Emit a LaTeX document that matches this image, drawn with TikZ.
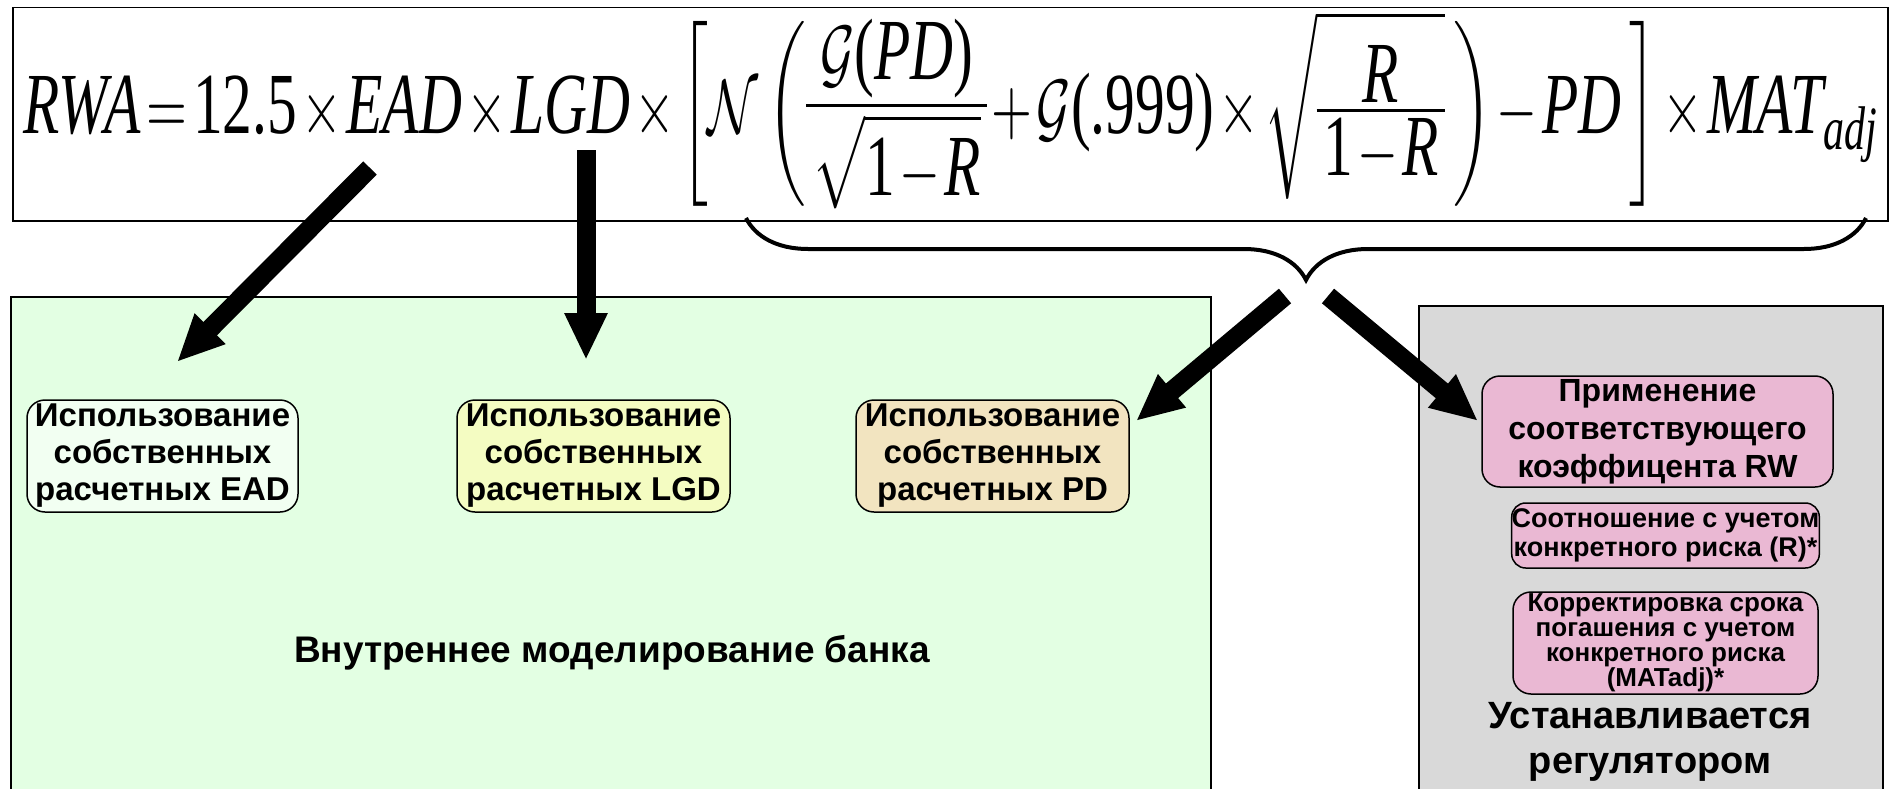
\documentclass[tikz,border=0pt]{standalone}
\usepackage{fontspec}
\usepackage{amsmath}
\usepackage{graphicx}
\setmainfont{Liberation Sans}
\newfontfamily\tnr{Liberation Serif}
\usetikzlibrary{arrows.meta,decorations.pathreplacing}
\definecolor{bankgreen}{RGB}{227,255,227}
\definecolor{eadfill}{RGB}{242,255,242}
\definecolor{lgdfill}{RGB}{244,252,194}
\definecolor{pdfill}{RGB}{242,228,192}
\definecolor{rwpink}{RGB}{234,184,211}
\definecolor{reggray}{RGB}{217,217,217}
\newcommand{\ti}[1]{\text{\tnr\itshape\fontsize{11.3}{12}\selectfont #1}}
\newcommand{\tu}[1]{\text{\tnr\fontsize{11.3}{12}\selectfont #1}}
\newcommand{\ffrac}[2]{\vcenter{\offinterlineskip\halign{\hskip.12em\hfil##\hfil\hskip.12em\cr$\displaystyle#1$\cr\noalign{\kern0.8pt\hrule height0.45pt\kern0.8pt}$\displaystyle#2$\cr}}}
\newcommand{\delimph}{\vphantom{\rule[-9.5pt]{0pt}{14.5pt}}}
\tikzset{
  panel/.style={draw, line width=1.5pt, anchor=north west, inner sep=0pt},
  rbox/.style={draw, line width=1.5pt, rounded corners=18pt, inner sep=0pt, align=center, font=\bfseries},
  bigarrow/.style={line width=19pt, -{Triangle[length=47pt,width=40pt]}},
}
\begin{document}
\begin{tikzpicture}[x=1pt,y=-1pt]
\useasboundingbox (0,0) rectangle (1897,789);
% formula
\node[panel, minimum width=1875pt, minimum height=213pt] (fbox) at (12,7) {};
\node[inner sep=0pt] (formula) at (952,114) {\resizebox*{1856pt}{185pt}{\thickmuskip=2mu \medmuskip=1.5mu $\displaystyle
\ti{RWA}=\tu{12.5}\times\ti{EAD}\times\ti{LGD}\times\left[\delimph\smash{\mathcal{N}\left(\delimph\smash{\ffrac{\mathcal{G}\tu{(}\ti{PD}\tu{)}}{\sqrt{\tu{1}-\ti{R}}}+\mathcal{G}\tu{(.999)}\times\sqrt{\ffrac{\ti{R}}{\tu{1}-\ti{R}}}}\,\right)-\ti{PD}}\,\right]\times\ti{MAT}_{\text{\tnr\itshape\fontsize{8}{9}\selectfont adj}}$}};
% brace
\draw[line width=4pt, decorate, decoration={brace, amplitude=62pt}] (1866,218) -- (746,218);
% panels
\node[panel, fill=bankgreen, minimum width=1200pt, minimum height=500pt] (bank) at (10,296) {};
\node[panel, fill=reggray, minimum width=464pt, minimum height=490pt] (reg) at (1418,305) {};
% boxes
\node[rbox, fill=eadfill, minimum width=271pt, minimum height=112pt, font=\bfseries\fontsize{33}{37}\selectfont] (ead) at (162.5,456) {Использование\\собственных\\расчетных EAD};
\node[rbox, fill=lgdfill, minimum width=273pt, minimum height=112pt, font=\bfseries\fontsize{33}{37}\selectfont] (lgd) at (593.5,456) {Использование\\собственных\\расчетных LGD};
\node[rbox, fill=pdfill, minimum width=273pt, minimum height=112pt, font=\bfseries\fontsize{33}{37}\selectfont] (pd) at (992.5,456) {Использование\\собственных\\расчетных PD};
\node[font=\bfseries\fontsize{37}{42}\selectfont] (banktxt) at (612,653) {Внутреннее моделирование банка};
\node[rbox, fill=rwpink, minimum width=351pt, minimum height=111pt, font=\bfseries\fontsize{32}{38}\selectfont] (rw) at (1657.5,431.5) {Применение\\соответствующего\\коэффицента RW};
\node[rbox, fill=rwpink, rounded corners=14pt, minimum width=305pt, minimum height=65pt, font=\bfseries\fontsize{27}{29}\selectfont] (r) at (1665.5,535.5) {Соотношение с учетом\\конкретного риска (R)*};
\node[rbox, fill=rwpink, minimum width=305pt, minimum height=102pt, font=\bfseries\fontsize{26}{25}\selectfont] (mat) at (1665.5,643) {Корректировка срока\\погашения с учетом\\конкретного риска\\(MATadj)*};
\node[align=center, font=\bfseries\fontsize{38}{45}\selectfont] (regtxt) at (1650,742) {Устанавливается\\регулятором};
% arrows
\coordinate (a1s) at (370,168);
\coordinate (a1e) at (177,362);
\coordinate (a2s) at (586,150);
\coordinate (a2e) at (586,360);
\coordinate (a3s) at (1285,296);
\coordinate (a3e) at (1136,421);
\coordinate (a4s) at (1328,296);
\coordinate (a4e) at (1478,421);
\draw[bigarrow] (a1s) -- (a1e);
\draw[bigarrow] (a2s) -- (a2e);
\draw[bigarrow] (a3s) -- (a3e);
\draw[bigarrow] (a4s) -- (a4e);
\end{tikzpicture}
\end{document}
